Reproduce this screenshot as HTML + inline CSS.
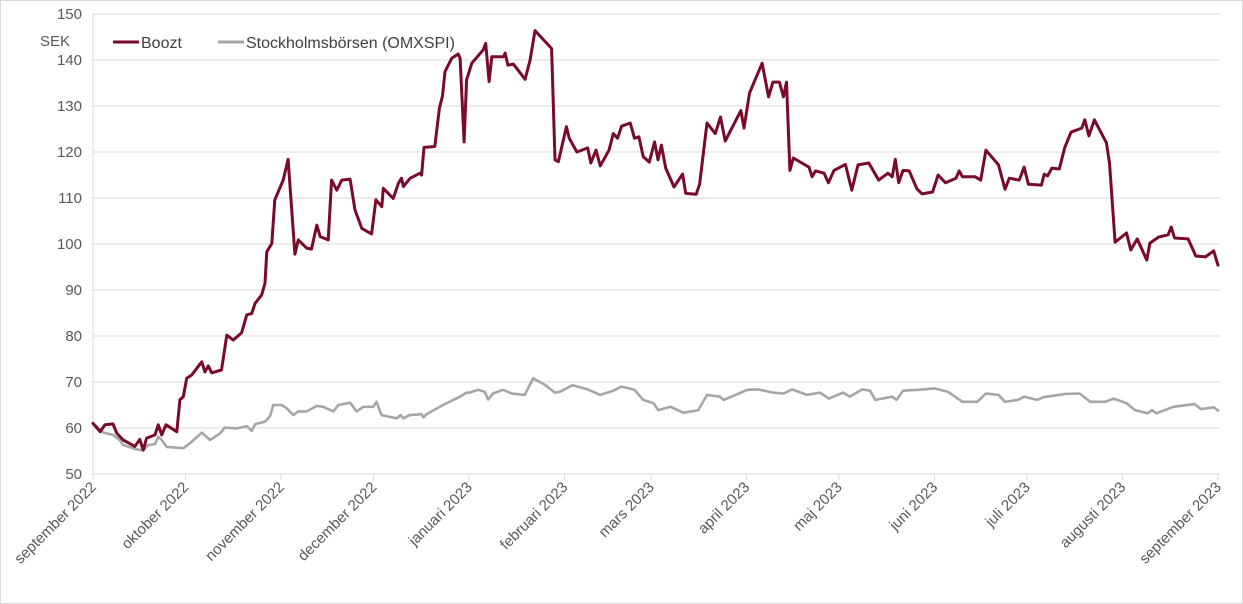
<!DOCTYPE html>
<html><head><meta charset="utf-8"><style>
html,body{margin:0;padding:0;background:#fff}
svg{display:block;font-family:"Liberation Sans",sans-serif}
</style></head><body>
<svg id="chart" width="1243" height="604" viewBox="0 0 1243 604" xmlns="http://www.w3.org/2000/svg">
<rect x="0.5" y="0.5" width="1242" height="603" fill="#fff" stroke="#d9d9d9"/>
<g id="grid"></g>
<g id="axes"></g>
<text x="40" y="46" font-size="15" fill="#595959">SEK</text>
<g id="series"></g>
<g>
<g><line x1="113" y1="42" x2="139" y2="42" stroke="#7a0a2a" stroke-width="3"/><text x="141" y="48" font-size="16" fill="#404040">Boozt</text></g>
<g><line x1="218" y1="42" x2="244" y2="42" stroke="#a6a6a6" stroke-width="3"/><text x="246" y="48" font-size="16" fill="#404040">Stockholmsbörsen (OMXSPI)</text></g>
</g>
</svg>
<script>
const yTicks=[50,60,70,80,90,100,110,120,130,140,150];
const monthLabels=["september 2022","oktober 2022","november 2022","december 2022","januari 2023","februari 2023","mars 2023","april 2023","maj 2023","juni 2023","juli 2023","augusti 2023","september 2023"];
const monthDays=[0,30,61,91,122,153,181,212,242,273,303,334,365];
const booztDays=[0,2.3,3.9,6.5,7.7,9.8,13.6,15.2,16.3,17.4,20.1,21.2,22.3,23.7,27.2,28.2,29.3,30.4,32,35.3,36.3,37.4,38.5,41.7,43.4,45.5,48.2,49.9,51.5,52.6,54.7,55.8,56.4,58,59,61.7,63.3,65.5,66.6,69.3,70.9,72.6,73.7,76.3,77.4,79.1,80.7,83.4,85,87.2,90.4,91.8,93.7,94.2,95.8,97.4,99.1,100.1,100.7,102.9,106.1,106.6,107.4,110.9,112.4,113.4,114.2,116.4,118.5,119.1,120.4,121.2,122.9,126.6,127.4,128.5,129.4,133.2,133.7,134.6,136.4,140.2,141.8,143.4,148.8,149.9,151,153.6,154.5,157,160.5,161.5,163.2,164.6,167.4,168.8,170.2,171.5,174.3,175.7,177.1,178.5,180.5,182.2,183.3,184.4,185.8,188.5,191.3,192.3,195.7,196.8,199.2,201.9,203.6,205.1,210.2,211.2,213,217.1,219.2,220.6,222.7,224,225,226.1,227.2,232.3,233.3,234.4,237.2,238.6,240.4,244.1,246.2,248.2,251.7,254.9,257.9,259.3,260.3,261.4,262.8,264.8,267.3,269,272.4,274.2,276.6,280,281,282.1,286.2,288,289.7,293.8,295.9,297.3,300.5,302.1,303.5,307.7,308.6,309.7,311.1,313.5,315.3,317.3,320.8,321.8,323.1,324.9,328.8,329.8,331.6,335.3,336.7,338.8,341.9,342.9,345.7,348.8,349.8,350.9,355.3,357.8,360.9,363.6,365];
const booztValues=[61,59.2,60.7,60.9,58.9,57.4,56,57.5,55.2,57.8,58.5,60.7,58.5,60.7,59.2,66.1,66.8,70.8,71.5,74.4,72.2,73.5,72,72.6,80.2,79.1,80.7,84.6,84.9,87.1,88.9,91.5,98.3,100.1,109.6,113.9,118.4,97.8,100.9,99.1,98.9,104.1,101.6,100.9,113.9,111.7,113.9,114.1,107.4,103.4,102.2,109.6,108.1,112.1,111,109.9,113.2,114.3,112.5,114.3,115.4,115,121,121.2,129.5,132.2,137.5,140.4,141.3,140.4,122.2,135.7,139.3,142.2,143.6,135.3,140.7,140.7,141.5,138.9,139.1,135.8,140,146.4,142.5,118.3,117.9,125.5,123,120,120.9,117.6,120.4,117,120.4,124,123,125.6,126.3,123,123.3,119,117.8,122.2,118.3,121.5,116.5,112.4,115.2,111,110.8,113,126.3,124,127.6,122.4,129,125.2,132.8,139.3,132,135.2,135.2,132,135.2,116,118.7,116.7,114.6,115.9,115.4,113.3,116,117.3,111.7,117.2,117.6,113.9,115.4,114.6,118.4,113.3,116,115.9,112,110.9,111.3,115,113.3,114.3,115.9,114.6,114.6,113.9,120.4,117.2,111.9,114.3,113.9,116.7,113,112.8,115.2,114.8,116.5,116.3,121,124.3,125.2,127,123.5,127,122,117.6,100.4,102.4,98.7,101.1,96.5,100.2,101.5,102,103.7,101.3,101.1,97.4,97.2,98.5,95.4];
const omxDays=[0,3.4,6.5,8.7,9.8,14.1,16.3,17.9,20.1,21.2,22.3,23.9,29.3,31.5,35.3,38,41.2,42.8,46.6,49.9,51.5,52.6,55.8,57.4,58.5,61.2,62.8,65,66.6,69.3,72.6,74.7,78,79.6,83.4,85.5,87.7,90.9,92,93.6,98.5,99.8,100.7,102.8,106.6,107.2,108.2,113.6,119,121.2,122.2,124.9,127.1,128.2,129.8,133,135.8,140.1,142.8,146.6,149.9,151.5,155.6,160.5,164.6,168.8,171.5,175.7,178.5,181.9,183.3,187.4,191.6,196.4,199.2,203.3,204.7,212.3,215.8,220.6,224.1,226.8,231.7,235.8,238.8,243.4,245.5,249.6,252.1,253.8,259.3,260.7,262.8,267.6,273.1,277.3,282.1,286.9,289.7,293.8,295.9,300.1,302.1,306.3,308.4,315.3,320.1,323.6,328.4,331.2,335.3,338.1,342.2,343.6,345,350.5,357.4,359.5,363.6,365];
const omxValues=[61,59,58.5,57.4,56.3,55.4,55.1,56.3,56.5,58.1,57.4,55.9,55.6,56.7,59,57.4,58.8,60.1,59.9,60.4,59.4,60.8,61.4,62.5,65,65,64.3,62.8,63.6,63.6,64.8,64.6,63.6,65,65.5,63.6,64.6,64.6,65.7,62.8,62.1,62.8,62.1,62.8,63,62.3,63,65,66.8,67.7,67.7,68.3,67.9,66.2,67.5,68.3,67.5,67.2,70.8,69.4,67.7,67.9,69.3,68.4,67.2,68.1,69,68.3,66.1,65.4,63.9,64.6,63.3,63.9,67.2,66.8,66.1,68.3,68.4,67.7,67.5,68.4,67.2,67.7,66.4,67.7,66.8,68.4,68.1,66.1,66.8,66.1,68.1,68.3,68.6,67.9,65.7,65.7,67.5,67.2,65.7,66.1,66.8,66.1,66.7,67.4,67.5,65.7,65.7,66.4,65.4,63.9,63.2,63.9,63.2,64.6,65.2,64.1,64.5,63.8];

const NS="http://www.w3.org/2000/svg";
const X0=93,X1=1218,Y0=474,Y1=14,DMAX=365,VMIN=50,VMAX=150;
function xs(d){return X0+(d/DMAX)*(X1-X0);}
function ys(v){return Y0-(v-VMIN)/(VMAX-VMIN)*(Y0-Y1);}
function mk(tag,attrs,parent){const e=document.createElementNS(NS,tag);for(const k in attrs)e.setAttribute(k,attrs[k]);parent.appendChild(e);return e;}
const grid=document.getElementById('grid'),axes=document.getElementById('axes'),series=document.getElementById('series');
yTicks.forEach(v=>{
  if(v>VMIN){const l=mk('line',{x1:X0,x2:X1+2,y1:ys(v),y2:ys(v),stroke:'#d9d9d9','stroke-width':1},grid);
  
  }
  const t=mk('text',{x:82,y:ys(v)+5,'text-anchor':'end','font-size':15,fill:'#595959'},axes);
  t.textContent=v;
  
  
});
const ya=mk('line',{x1:X0,x2:X0,y1:Y1,y2:Y0,stroke:'#d9d9d9','stroke-width':1},axes);


const xa=mk('line',{x1:X0,x2:X1+2,y1:Y0,y2:Y0,stroke:'#d9d9d9','stroke-width':1},axes);


monthDays.forEach((d,i)=>{
  const x=xs(d);
  const tk=mk('line',{x1:x,x2:x,y1:Y0,y2:Y0+6,stroke:'#d9d9d9','stroke-width':1},axes);
  
  
  const t=mk('text',{x:x+4,y:Y0+14,'text-anchor':'end','font-size':15,fill:'#595959',transform:'rotate(-45 '+(x+4)+' '+(Y0+14)+')'},axes);
  t.textContent=monthLabels[i];
  
  
});
function line(days,vals,color,w,name){
  const d=days.map((dd,i)=>(i?'L':'M')+xs(dd).toFixed(1)+','+ys(vals[i]).toFixed(1)).join('');
  const p=mk('path',{d:d,fill:'none',stroke:color,'stroke-width':w,'stroke-linejoin':'round','stroke-linecap':'round'},series);
  
  
}
line(omxDays,omxValues,'#a6a6a6',2.6,'omxspi-line');
line(booztDays,booztValues,'#7a0a2a',3,'boozt-line');
</script>
</body></html>
